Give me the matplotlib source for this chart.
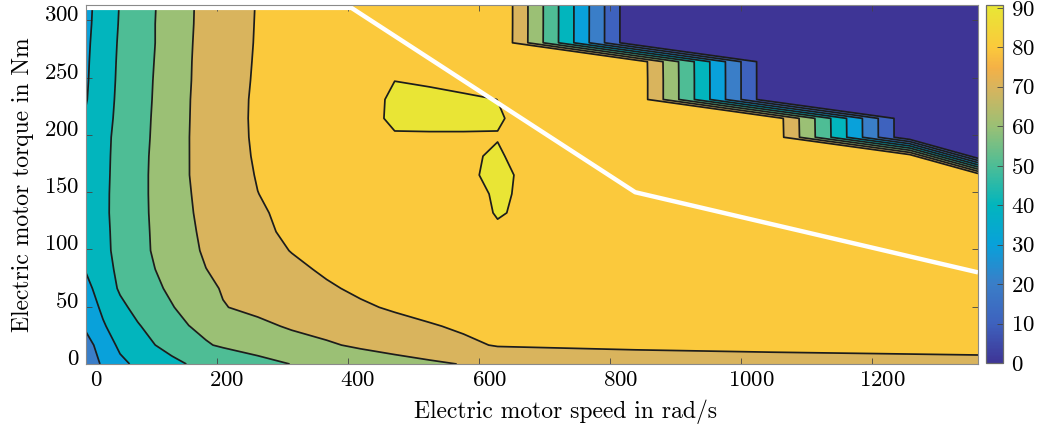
import numpy as np
import matplotlib
matplotlib.use('Agg')
import matplotlib.pyplot as plt
from matplotlib import transforms
from matplotlib.colors import LinearSegmentedColormap, Normalize
from matplotlib.cm import ScalarMappable

# grid of the efficiency map: speed in rad/s (columns), torque in Nm (rows)
speed = [0, 26, 52, 79, 105, 131, 157, 183, 209, 262, 314, 367, 419, 471,
         524, 576, 628, 838, 1047, 1257, 1361]
torque = [0, 16.5, 33, 49.5, 66, 82.5, 99, 115.5, 132, 148.5, 165, 181.5,
          198, 214.5, 231, 247.5, 264, 280.5, 297, 313.5]

# efficiency in %, one row per torque value (0 = above the torque limit)
eff = [
    [24.6, 31.2, 37.7, 42.0, 44.9, 47.8, 50.4, 52.0, 53.7, 57.1, 60.2, 62.3, 64.3, 66.3, 68.4, 70.4, 72.4, 74.0, 75.0, 75.0, 75.0],
    [26.5, 34.2, 42.0, 46.0, 49.9, 53.0, 56.2, 59.3, 61.0, 63.7, 66.3, 68.9, 71.4, 73.7, 76.0, 78.3, 80.6, 82.0, 83.0, 84.5, 85.5],
    [31.5, 39.1, 44.2, 49.3, 52.9, 56.4, 59.9, 61.9, 63.9, 68.0, 71.0, 73.1, 75.2, 77.2, 79.3, 81.2, 83.0, 85.0, 85.5, 86.0, 86.5],
    [35.2, 41.6, 48.0, 52.5, 56.0, 59.5, 62.9, 66.2, 69.6, 72.1, 74.3, 76.6, 78.8, 81.0, 82.8, 84.3, 85.5, 86.5, 87.0, 87.0, 87.0],
    [37.2, 44.7, 51.1, 54.7, 58.3, 61.7, 64.9, 68.1, 70.6, 73.4, 76.1, 78.9, 81.5, 83.0, 84.3, 85.4, 86.3, 87.3, 87.6, 87.6, 87.5],
    [40.6, 46.8, 51.9, 56.0, 59.9, 63.3, 66.6, 69.9, 71.6, 74.9, 78.1, 81.2, 82.9, 84.3, 85.5, 86.4, 87.3, 88.0, 88.2, 88.2, 88.0],
    [42.0, 47.8, 52.6, 57.0, 61.0, 64.7, 68.2, 71.0, 72.9, 76.7, 80.3, 82.3, 84.0, 85.4, 86.6, 87.6, 88.4, 88.3, 88.5, 88.4, 88.2],
    [42.0, 48.0, 52.8, 57.2, 61.2, 65.0, 68.8, 71.5, 73.6, 77.9, 81.8, 83.8, 86.0, 87.3, 88.3, 89.0, 89.6, 87.6, 88.3, 88.2, 88.0],
    [42.5, 48.3, 53.0, 57.3, 61.5, 65.4, 69.3, 71.9, 74.2, 78.9, 82.2, 84.6, 86.5, 87.7, 88.4, 88.7, 90.2, 87.2, 88.0, 88.0, 87.8],
    [43.0, 48.3, 52.9, 57.4, 61.6, 65.6, 69.6, 72.3, 74.8, 79.9, 82.6, 85.0, 86.8, 88.0, 88.7, 89.1, 90.3, 87.4, 88.0, 87.8, 87.5],
    [43.0, 48.1, 52.8, 57.4, 61.6, 65.8, 69.9, 72.7, 75.5, 80.5, 83.4, 85.7, 87.4, 88.5, 89.2, 89.7, 90.35, 87.4, 87.8, 87.5, 87.2],
    [43.0, 48.0, 52.6, 57.2, 61.5, 65.7, 69.9, 72.9, 75.9, 81.0, 84.0, 86.3, 87.9, 89.0, 89.6, 89.8, 90.15, 87.3, 87.5, 87.2, 0],
    [43.0, 47.8, 52.4, 56.9, 61.2, 65.5, 69.9, 73.1, 76.2, 81.3, 84.3, 86.6, 88.3, 89.7, 89.7, 89.7, 89.95, 88.0, 87.3, 0, 0],
    [41.0, 47.0, 52.1, 56.6, 61.0, 65.4, 69.8, 73.1, 76.3, 81.4, 84.4, 86.9, 88.7, 90.6, 90.7, 90.7, 90.1, 88.2, 87.0, 0, 0],
    [39.5, 46.2, 51.9, 56.4, 60.7, 65.2, 69.7, 73.1, 76.3, 81.3, 84.4, 86.9, 88.5, 90.6, 90.6, 90.4, 89.99, 88.0, 0, 0, 0],
    [39.0, 45.8, 51.6, 56.1, 60.5, 65.0, 69.5, 72.9, 76.2, 81.0, 84.0, 86.4, 88.0, 89.98, 89.7, 89.2, 89.5, 88.0, 0, 0, 0],
    [38.7, 45.4, 51.4, 55.9, 60.2, 64.8, 69.4, 72.8, 76.0, 80.8, 83.5, 85.8, 87.3, 88.3, 88.9, 89.2, 89.5, 87.8, 0, 0, 0],
    [38.3, 45.0, 51.1, 55.6, 59.9, 64.5, 69.2, 72.7, 75.9, 80.6, 83.2, 85.4, 87.0, 88.0, 88.7, 89.2, 89.7, 0, 0, 0, 0],
    [37.8, 44.5, 50.7, 55.4, 59.9, 64.3, 69.0, 72.5, 75.7, 80.5, 83.0, 85.2, 86.8, 87.9, 88.6, 89.2, 89.8, 0, 0, 0, 0],
    [37.5, 44.1, 50.4, 55.1, 59.7, 64.1, 68.9, 72.4, 75.5, 80.4, 82.8, 85.0, 86.6, 87.8, 88.5, 89.1, 89.8, 0, 0, 0, 0],
]

# white operating line
line_speed = [0, 405, 838, 1361]
line_torque = [311, 311, 150, 80]

levels = [0, 10, 20, 30, 40, 50, 60, 70, 80, 90]

plt.rcParams['font.family'] = 'cmr10'
plt.rcParams['mathtext.fontset'] = 'cm'
plt.rcParams['axes.formatter.use_mathtext'] = True

S, T = np.meshgrid(speed, torque)
Z = np.array(eff)
zmax = Z.max()

# parula-like colormap, anchored at efficiency values
anchors = [(0, '#3e3596'), (10, '#3e62be'), (20, '#3a7ec8'), (30, '#08a1da'),
           (40, '#02b5bd'), (50, '#4dbd96'), (60, '#9ac075'), (70, '#d9b45d'),
           (75, '#f4b146'), (80, '#fbc93c'), (90, '#e9e535')]
cmap = LinearSegmentedColormap.from_list(
    'parula_like', [(min(v / zmax, 1.0), c) for v, c in anchors] + [(1.0, '#e9e535')])
norm = Normalize(0, zmax)
band_colors = [cmap(norm(v)) for v in levels]

fig = plt.figure(figsize=(10.43, 4.34), dpi=100)
ax = fig.add_axes([86 / 1043, 70 / 434, 892 / 1043, 359 / 434])
cax = fig.add_axes([986 / 1043, 71 / 434, 17 / 1043, 358 / 434])

ax.contourf(S, T, Z, levels=levels + [zmax], colors=band_colors)
ax.contour(S, T, Z, levels=levels[1:], colors='#1c1c1c', linewidths=1.25)
ax.plot(line_speed, line_torque, color='white', lw=3.2, solid_capstyle='butt')

ax.set_xlim(0, 1361)
ax.set_ylim(0, 313.5)
ax.set_xticks(range(0, 1201, 200))
ax.set_yticks(range(0, 301, 50))
ax.tick_params(direction='in', length=4, width=0.6, color='#444444',
               top=True, right=True, labelsize=16.5, pad=5)
for sp in ax.spines.values():
    sp.set_color('#8a8a8a')
    sp.set_linewidth(0.8)

# tick labels sit a bit off their ticks in the original
dx = transforms.ScaledTranslation(0.10, 0, fig.dpi_scale_trans)
dy = transforms.ScaledTranslation(0, 0.07, fig.dpi_scale_trans)
for lbl in ax.get_xticklabels():
    lbl.set_transform(lbl.get_transform() + dx)
for lbl in ax.get_yticklabels():
    lbl.set_transform(lbl.get_transform() + dy)

ax.set_xlabel('Electric motor speed in rad/s', fontsize=17)
ax.xaxis.set_label_coords(0.538, -0.10)
ax.set_ylabel('Electric motor torque in Nm', fontsize=17)
ax.yaxis.set_label_coords(-0.058, 0.5)

cb = fig.colorbar(ScalarMappable(norm=norm, cmap=cmap), cax=cax,
                  ticks=range(0, 91, 10))
cb.outline.set_edgecolor('#6a6a6a')
cb.outline.set_linewidth(0.9)
cax.tick_params(direction='in', length=4, width=0.6, color='#444444',
                labelsize=16.5, pad=6)

fig.savefig('out.png', dpi=100)
